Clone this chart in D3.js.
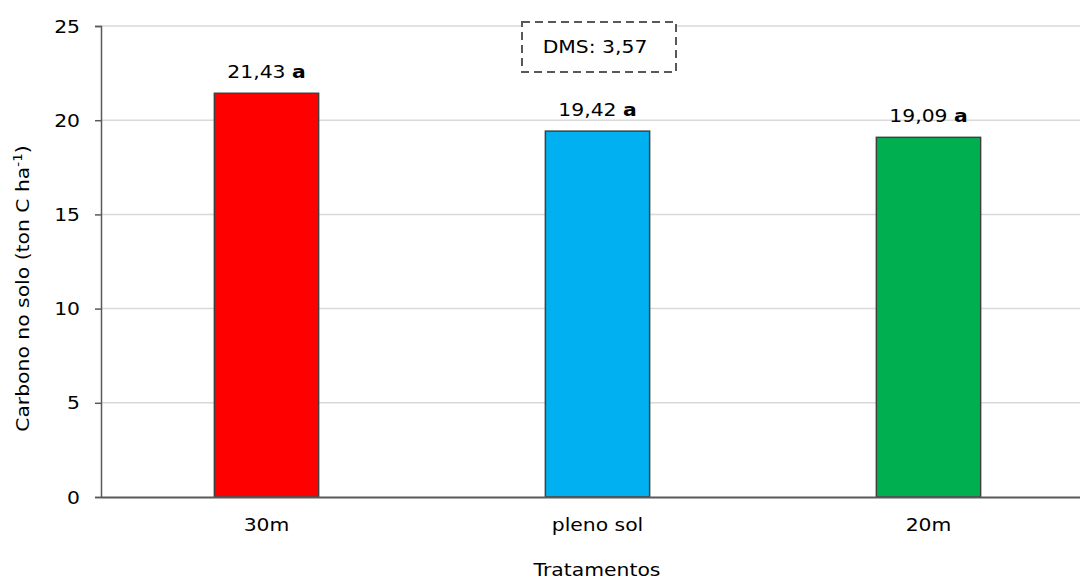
<!DOCTYPE html>
<html>
<head>
<meta charset="utf-8">
<script src="https://cdn.jsdelivr.net/npm/d3@7"></script>
<style>
  html, body { margin: 0; padding: 0; background: #fff; }
  svg { display: block; }
  text { font-family: "DejaVu Sans", Verdana, sans-serif; fill: #000; }
</style>
</head>
<body>
<svg id="chart" width="1080" height="581"></svg>
<script>
// Treatments and soil carbon stocks (ton C ha-1)
const categories = ["30m", "pleno sol", "20m"];
const values = [21.43, 19.42, 19.09];
const labels = ["21,43", "19,42", "19,09"];
const groups = ["a", "a", "a"];
const colors = ["#ff0000", "#00b0f0", "#00b050"];
const yTicks = [0, 5, 10, 15, 20, 25];
const dmsText = "DMS: 3,57";

const svg = d3.select("#chart");
const plotLeft = 101, plotRight = 1094, plotTop = 26, plotBottom = 497;
const sx = 1.13; // horizontal text stretch

const x = d3.scaleBand().domain(categories).range([plotLeft, plotRight]).padding(0);
const y = d3.scaleLinear().domain([0, 25]).range([plotBottom, plotTop]);
const barW = x.bandwidth() * 0.315;

function stretchedText(sel, px, py, anchor) {
  return sel.attr("text-anchor", anchor)
    .attr("transform", `translate(${px},${py}) scale(${sx},1)`);
}

// gridlines
svg.append("g").selectAll("line").data(yTicks.filter(d => d > 0)).join("line")
  .attr("x1", plotLeft).attr("x2", plotRight)
  .attr("y1", d => y(d)).attr("y2", d => y(d))
  .attr("stroke", "#d9d9d9").attr("stroke-width", 1.5);

// y axis
const yAxis = svg.append("g").attr("transform", `translate(${plotLeft},0)`)
  .call(d3.axisLeft(y).tickValues(yTicks).tickSize(6).tickPadding(0).tickFormat(""));
yAxis.select(".domain").attr("stroke", "#595959").attr("stroke-width", 1.5);
yAxis.selectAll(".tick line").attr("stroke", "#595959").attr("stroke-width", 1.5);

svg.append("g").selectAll("text").data(yTicks).join("text")
  .style("font-size", "18px")
  .text(d => d)
  .each(function(d) { stretchedText(d3.select(this), 80, y(d) + 6.5, "end"); });

// bars
svg.append("g").selectAll("rect").data(values).join("rect")
  .attr("x", (d, i) => x(categories[i]) + x.bandwidth() / 2 - barW / 2)
  .attr("width", barW)
  .attr("y", d => y(d))
  .attr("height", d => y(0) - y(d))
  .attr("fill", (d, i) => colors[i])
  .attr("stroke", "#404040").attr("stroke-width", 1.5);

// x axis
const xAxis = svg.append("g").attr("transform", `translate(0,${plotBottom})`)
  .call(d3.axisBottom(x).tickSize(0).tickFormat(""));
xAxis.select(".domain").attr("stroke", "#595959").attr("stroke-width", 2);

svg.append("g").selectAll("text").data(categories).join("text")
  .style("font-size", "18px")
  .text(d => d)
  .each(function(d) { stretchedText(d3.select(this), x(d) + x.bandwidth() / 2, 531, "middle"); });

// value labels with significance letters
const vl = svg.append("g").selectAll("text").data(values).join("text")
  .style("font-size", "18px")
  .each(function(d, i) {
    stretchedText(d3.select(this), x(categories[i]) + x.bandwidth() / 2, y(d) - 15, "middle");
  });
vl.append("tspan").text((d, i) => labels[i] + " ");
vl.append("tspan").style("font-weight", "bold").text((d, i) => groups[i]);

// DMS box
const bx = 522, by = 22, bw = 154, bh = 50;
svg.append("rect").attr("x", bx).attr("y", by).attr("width", bw).attr("height", bh)
  .attr("fill", "#fff").attr("stroke", "#595959").attr("stroke-width", 2)
  .attr("stroke-dasharray", "8,5");
svg.append("text").style("font-size", "18px").text(dmsText)
  .each(function() { stretchedText(d3.select(this), bx + bw / 2 - 4, 53, "middle"); });

// axis titles
const yt = svg.append("text").style("font-size", "18px")
  .attr("text-anchor", "middle")
  .attr("transform", `translate(29,${(plotTop + plotBottom) / 2 + 27}) rotate(-90) scale(${sx},1)`);
yt.append("tspan").text("Carbono no solo (ton C ha");
yt.append("tspan").attr("dy", -7).style("font-size", "12px").text("-1");
yt.append("tspan").attr("dy", 7).text(")");

svg.append("text").style("font-size", "18px").text("Tratamentos")
  .each(function() { stretchedText(d3.select(this), 597, 576, "middle"); });
</script>
</body>
</html>
